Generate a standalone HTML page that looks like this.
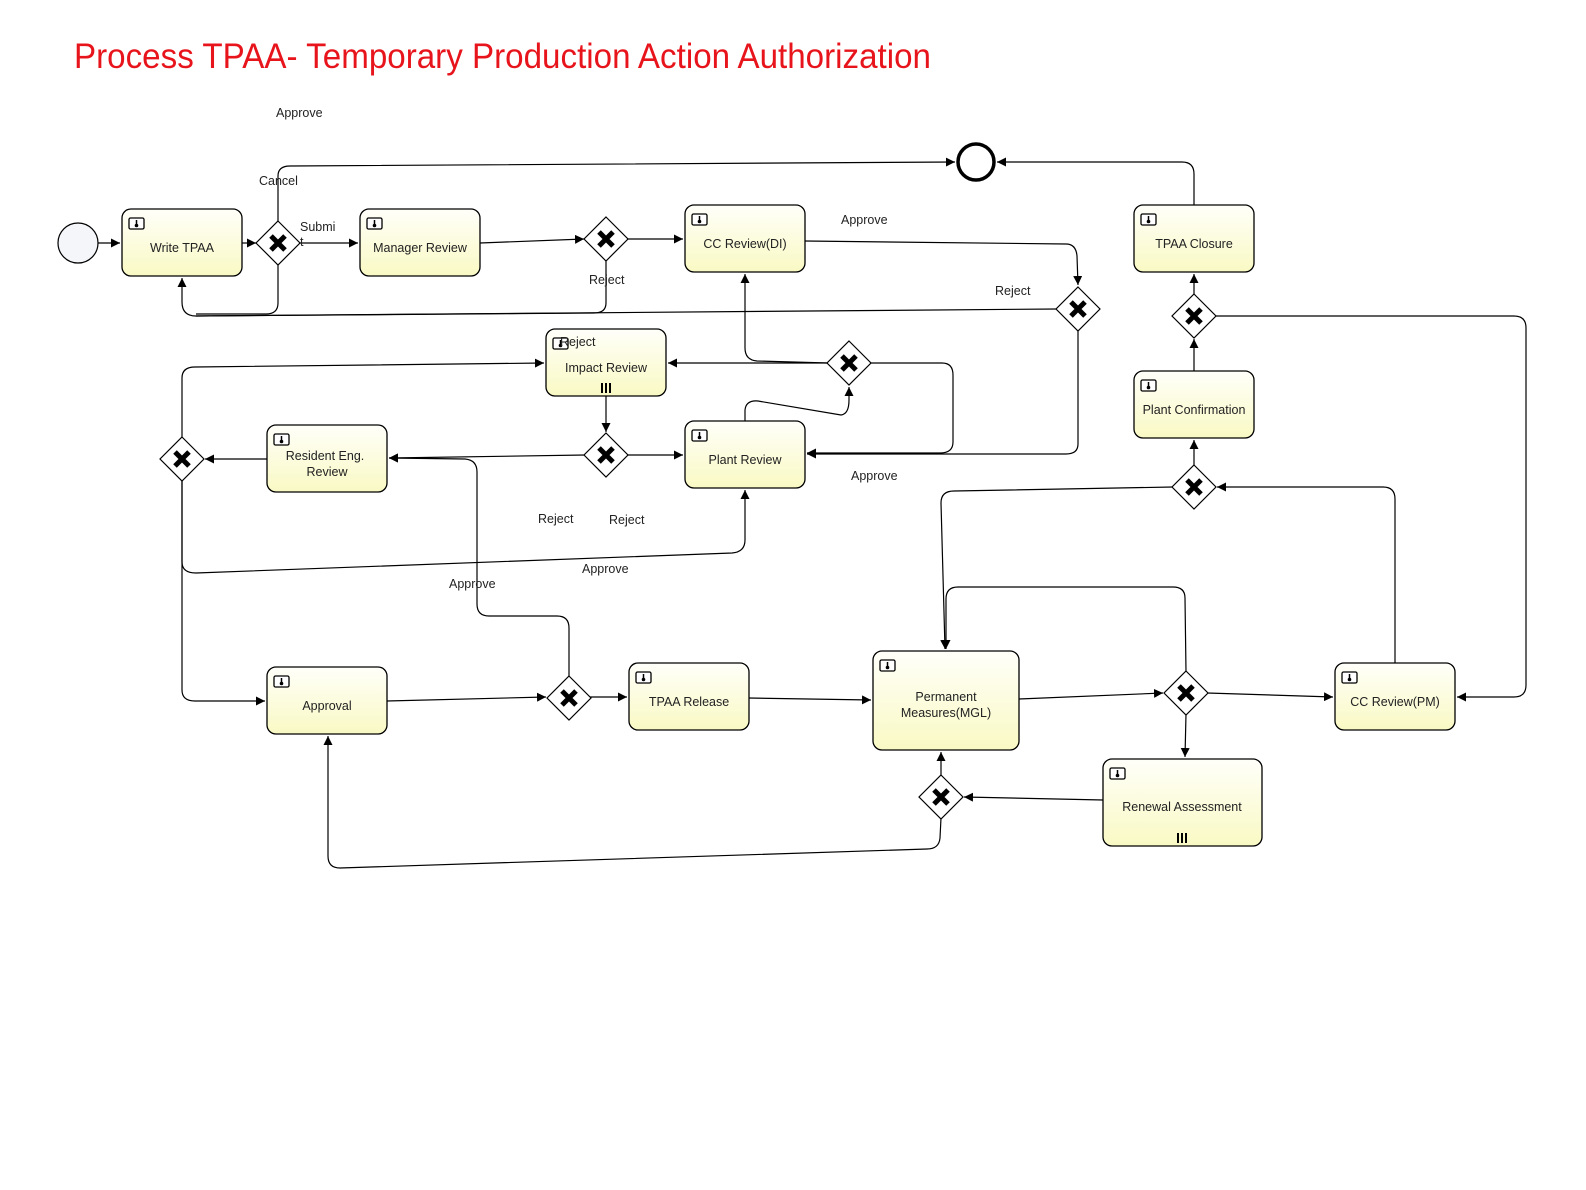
<!DOCTYPE html>
<html><head><meta charset="utf-8"><style>
html,body{margin:0;padding:0;background:#fff;overflow:hidden;width:1586px;height:1190px}
svg{display:block}
svg text{font-family:"Liberation Sans",sans-serif}
.l{font-size:12.5px;fill:#222}
.t{font-size:12.5px;fill:#222;text-anchor:middle}
</style></head><body>
<svg width="1586" height="1190" viewBox="0 0 1586 1190" xmlns="http://www.w3.org/2000/svg">
<defs>
<linearGradient id="g" x1="0" y1="0" x2="0" y2="1"><stop offset="0" stop-color="#fffffa"/><stop offset="1" stop-color="#f9f9c4"/></linearGradient>
<marker id="a" viewBox="0 0 10 10" refX="10" refY="5" markerWidth="9" markerHeight="9" markerUnits="userSpaceOnUse" orient="auto"><path d="M0,0L10,5L0,10z" fill="#000"/></marker>
<g id="ic"><rect x="0" y="0" width="15" height="11" rx="1.5" fill="#fff" stroke="#000" stroke-width="1.3"/><path d="M7.5,2v5" stroke="#000" stroke-width="1.5"/><circle cx="7.5" cy="7.5" r="1.8"/></g>
<g id="gw"><path d="M0,-22L22,0L0,22L-22,0z" fill="#fff" stroke="#000" stroke-width="1.2"/><path d="M-7,-7L7,7M7,-7L-7,7" stroke="#000" stroke-width="5"/></g>
<g id="mi"><path d="M-4,-5v10M0,-5v10M4,-5v10" stroke="#000" stroke-width="2"/></g>
</defs>
<text x="74" y="68" font-size="35" fill="#e8141c" textLength="857" lengthAdjust="spacingAndGlyphs">Process TPAA- Temporary Production Action Authorization</text>

<g fill="none" stroke="#000" stroke-width="1.2">
<path d="M98,243H120" marker-end="url(#a)"/>
<path d="M242,243H256" marker-end="url(#a)"/>
<path d="M299,243H358" marker-end="url(#a)"/>
<path d="M278,222V176Q278,166 290,166L955,162" marker-end="url(#a)"/>
<path d="M480,243L584,239" marker-end="url(#a)"/>
<path d="M627,239H683" marker-end="url(#a)"/>
<path d="M606,260V303Q606,313 594,313L196,316Q182,316 182,302V278" marker-end="url(#a)"/>
<path d="M278,264V303Q278,314 266,314H196"/>
<path d="M805,241L1066,244Q1076,244 1077,256L1078,285" marker-end="url(#a)"/>
<path d="M1057,309L196,316"/>
<path d="M1078,330V444Q1078,454 1066,454H807" marker-end="url(#a)"/>
<path d="M745,421V410Q746,400 758,401L841,415Q849,414 849,400V387" marker-end="url(#a)"/>
<path d="M828,363H668" marker-end="url(#a)"/>
<path d="M828,363L757,361Q745,360 745,348V274" marker-end="url(#a)"/>
<path d="M870,363H942Q953,363 953,375V442Q953,453 940,453H807" marker-end="url(#a)"/>
<path d="M606,396V432" marker-end="url(#a)"/>
<path d="M627,455H683" marker-end="url(#a)"/>
<path d="M585,455L389,458" marker-end="url(#a)"/>
<path d="M267,459H205" marker-end="url(#a)"/>
<path d="M182,438V378Q182,367 195,367L544,363" marker-end="url(#a)"/>
<path d="M182,480V690Q182,701 195,701H265" marker-end="url(#a)"/>
<path d="M182,480V562Q182,573 196,573L732,553Q745,552 745,540V490" marker-end="url(#a)"/>
<path d="M387,701L546,697" marker-end="url(#a)"/>
<path d="M569,677V628Q569,616 557,616H489Q477,616 477,604V472Q477,460 465,459L389,458" marker-end="url(#a)"/>
<path d="M590,697H627" marker-end="url(#a)"/>
<path d="M749,698L871,700" marker-end="url(#a)"/>
<path d="M1019,699L1163,693" marker-end="url(#a)"/>
<path d="M1207,693L1333,697" marker-end="url(#a)"/>
<path d="M1186,672L1185,598Q1185,587 1173,587H958Q946,587 946,599V649" marker-end="url(#a)"/>
<path d="M1186,714L1185,757" marker-end="url(#a)"/>
<path d="M1103,800L964,797" marker-end="url(#a)"/>
<path d="M941,776V752" marker-end="url(#a)"/>
<path d="M941,818L940,838Q939,849 927,849L340,868Q328,868 328,856V736" marker-end="url(#a)"/>
<path d="M1395,663V499Q1395,487 1383,487H1217" marker-end="url(#a)"/>
<path d="M1173,487L954,491Q941,491 941,503L945,649" marker-end="url(#a)"/>
<path d="M1194,466V440" marker-end="url(#a)"/>
<path d="M1194,371V339" marker-end="url(#a)"/>
<path d="M1194,295V274" marker-end="url(#a)"/>
<path d="M1215,316H1514Q1526,316 1526,328V685Q1526,697 1514,697H1457" marker-end="url(#a)"/>
<path d="M1194,205V174Q1194,162 1182,162H997" marker-end="url(#a)"/>
</g>

<circle cx="78" cy="243" r="20" fill="#f4f6fa" stroke="#000" stroke-width="1.2"/>
<circle cx="976" cy="162" r="18" fill="#fff" stroke="#000" stroke-width="3.5"/>

<g stroke="#000" stroke-width="1.3" fill="url(#g)">
<rect x="122" y="209" width="120" height="67" rx="9"/>
<rect x="360" y="209" width="120" height="67" rx="9"/>
<rect x="685" y="205" width="120" height="67" rx="9"/>
<rect x="1134" y="205" width="120" height="67" rx="9"/>
<rect x="546" y="329" width="120" height="67" rx="9"/>
<rect x="685" y="421" width="120" height="67" rx="9"/>
<rect x="267" y="425" width="120" height="67" rx="9"/>
<rect x="1134" y="371" width="120" height="67" rx="9"/>
<rect x="267" y="667" width="120" height="67" rx="9"/>
<rect x="629" y="663" width="120" height="67" rx="9"/>
<rect x="873" y="651" width="146" height="99" rx="9"/>
<rect x="1335" y="663" width="120" height="67" rx="9"/>
<rect x="1103" y="759" width="159" height="87" rx="9"/>
</g>
<use href="#ic" x="129" y="218"/><use href="#ic" x="367" y="218"/><use href="#ic" x="692" y="214"/>
<use href="#ic" x="1141" y="214"/><use href="#ic" x="553" y="338"/><use href="#ic" x="692" y="430"/>
<use href="#ic" x="274" y="434"/><use href="#ic" x="1141" y="380"/><use href="#ic" x="274" y="676"/>
<use href="#ic" x="636" y="672"/><use href="#ic" x="880" y="660"/><use href="#ic" x="1342" y="672"/>
<use href="#ic" x="1110" y="768"/>
<use href="#mi" x="606" y="388"/><use href="#mi" x="1182" y="838"/>

<use href="#gw" x="278" y="243"/><use href="#gw" x="606" y="239"/><use href="#gw" x="1078" y="309"/>
<use href="#gw" x="849" y="363"/><use href="#gw" x="606" y="455"/><use href="#gw" x="182" y="459"/>
<use href="#gw" x="1194" y="316"/><use href="#gw" x="1194" y="487"/><use href="#gw" x="569" y="698"/>
<use href="#gw" x="1186" y="693"/><use href="#gw" x="941" y="797"/>

<text class="t" x="182" y="252">Write TPAA</text>
<text class="t" x="420" y="252">Manager Review</text>
<text class="t" x="745" y="248">CC Review(DI)</text>
<text class="t" x="1194" y="248">TPAA Closure</text>
<text class="t" x="606" y="372">Impact Review</text>
<text class="t" x="745" y="464">Plant Review</text>
<text class="t" x="325" y="460">Resident Eng.</text>
<text class="t" x="327" y="476">Review</text>
<text class="t" x="1194" y="414">Plant Confirmation</text>
<text class="t" x="327" y="710">Approval</text>
<text class="t" x="689" y="706">TPAA Release</text>
<text class="t" x="946" y="701">Permanent</text>
<text class="t" x="946" y="717">Measures(MGL)</text>
<text class="t" x="1395" y="706">CC Review(PM)</text>
<text class="t" x="1182" y="811">Renewal Assessment</text>

<text class="l" x="276" y="117">Approve</text>
<text class="l" x="259" y="185">Cancel</text>
<text class="l" x="300" y="231">Submi</text>
<text class="l" x="300" y="246">t</text>
<text class="l" x="589" y="284">Reject</text>
<text class="l" x="841" y="224">Approve</text>
<text class="l" x="995" y="295">Reject</text>
<text class="l" x="560" y="346">Reject</text>
<text class="l" x="851" y="480">Approve</text>
<text class="l" x="538" y="523">Reject</text>
<text class="l" x="609" y="524">Reject</text>
<text class="l" x="582" y="573">Approve</text>
<text class="l" x="449" y="588">Approve</text>
</svg>
</body></html>
